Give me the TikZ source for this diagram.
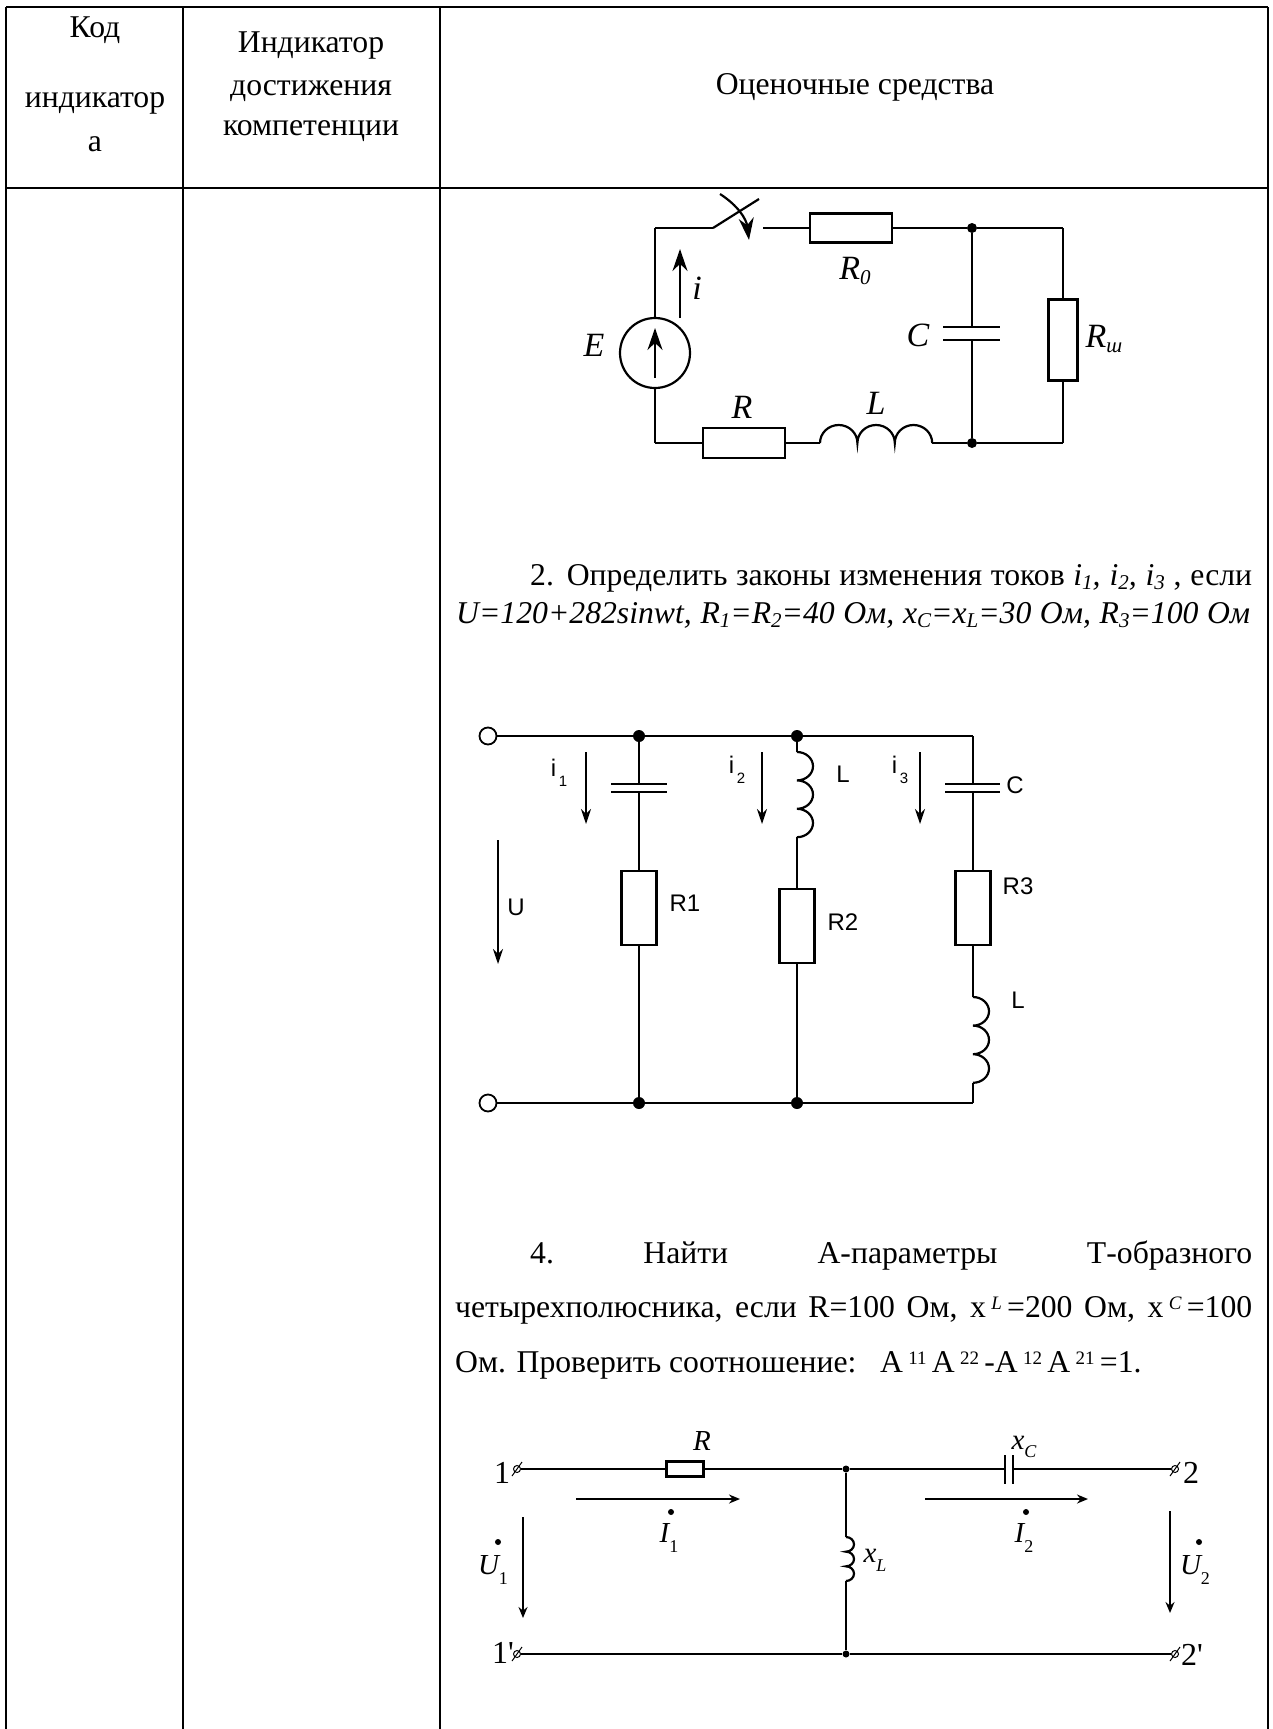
\documentclass[tikz,border=0pt]{standalone}
\usepackage{fontspec}
\setmainfont{Liberation Serif}
\setsansfont{Liberation Sans}
\newfontfamily\plainserif{Liberation Serif}
\usetikzlibrary{arrows.meta}
\tikzset{
  wire/.style={line width=2.2pt},
  res/.style={draw,line width=2.2pt,rectangle,inner sep=0pt},
  dot/.style={circle,fill=black,inner sep=0pt,minimum size=#1},
  term/.style={draw,circle,line width=1.8pt,fill=white,inner sep=0pt,minimum size=17pt},
  curbig/.style={line width=2.2pt,-{Stealth[length=22pt,width=15pt]}},
  cur/.style={line width=1.8pt,-{Stealth[length=15pt,width=10pt,inset=5pt]}},
  cursmall/.style={line width=2pt,-{Stealth[length=11pt,width=9pt]}},
  body/.style={inner sep=0pt,font=\fontsize{31.7}{36}\selectfont,anchor=base west},
  head/.style={inner sep=0pt,font=\fontsize{31.7}{36}\selectfont,anchor=base},
  lab/.style={inner sep=0pt,font=\fontsize{34}{38}\selectfont\itshape},
  sans/.style={inner sep=0pt,font=\fontsize{24}{28}\sffamily\selectfont},
  thin/.style={inner sep=0pt,font=\fontsize{29}{33}\selectfont\itshape},
  numb/.style={inner sep=0pt,font=\fontsize{32}{36}\plainserif\selectfont},
  knot/.style={draw,circle,line width=1pt,inner sep=0pt,minimum size=7pt}
}
\newcommand{\sst}[1]{\raisebox{-0.15em}{\fontsize{21}{21}\selectfont #1}}
\newcommand{\ssa}[1]{\raisebox{0.25em}{\fontsize{19}{19}\selectfont #1}}
\newcommand{\ssb}[1]{\raisebox{-0.4em}{\fontsize{15}{15}\selectfont #1}}
\newcommand{\ssc}[1]{\raisebox{-0.35em}{\fontsize{18}{18}\selectfont\upshape #1}}
\begin{document}
\begin{tikzpicture}[x=1pt,y=-1pt]
  \useasboundingbox (0,0) rectangle (1272,1729);
  % table
  \coordinate (tl) at (6,7);
  \coordinate (tr) at (1268,7);
  \coordinate (hl) at (6,188);
  \coordinate (hr) at (1268,188);
  \coordinate (bl) at (6,1729);
  \coordinate (br) at (1268,1729);
  \coordinate (c1) at (183,7);
  \coordinate (c1b) at (183,1729);
  \coordinate (c2) at (440,7);
  \coordinate (c2b) at (440,1729);
  \draw[line width=2pt] (tl) to (tr);
  \draw[line width=2pt] (hl) to (hr);
  \draw[line width=2pt] (tl) to (bl);
  \draw[line width=2pt] (tr) to (br);
  \draw[line width=2pt] (c1) to (c1b);
  \draw[line width=2pt] (c2) to (c2b);
  \node[head] (h1) at (95,37) {Код};
  \node[head] (h2) at (95,107) {индикатор};
  \node[head] (h3) at (95,151) {а};
  \node[head] (h4) at (311,52) {Индикатор};
  \node[head] (h5) at (311,95) {достижения};
  \node[head] (h6) at (311,135) {компетенции};
  \node[head] (h7) at (855,94) {Оценочные средства};
  % first circuit
  \coordinate (a1) at (655,228);
  \coordinate (a2) at (713,228);
  \coordinate (a3) at (759,199);
  \coordinate (a4) at (763,228);
  \coordinate (a5) at (1063,228);
  \coordinate (a6) at (1063,443);
  \coordinate (a7) at (655,443);
  \coordinate (a8) at (820,443);
  \coordinate (a9) at (932,443);
  \coordinate (sw1) at (720,194);
  \coordinate (sw2) at (749,240);
  \coordinate (ca) at (972,327);
  \coordinate (cb) at (972,340);
  \coordinate (cal) at (943,327);
  \coordinate (car) at (1000,327);
  \coordinate (cbl) at (943,340);
  \coordinate (cbr) at (1000,340);
  \node[draw,circle,line width=2.2pt,minimum size=70pt,inner sep=0pt] (src) at (655,353) {};
  \node[res,minimum width=82pt,minimum height=29pt] (r0) at (851,228) {};
  \node[res,minimum width=29pt,minimum height=81pt] (rsh) at (1063,340) {};
  \node[res,minimum width=82pt,minimum height=30pt] (r) at (744,443) {};
  \node[dot=10pt] (n1) at (972,228) {};
  \node[dot=10pt] (n2) at (972,443) {};
  \coordinate (s1) at (655,378);
  \coordinate (s2) at (655,328);
  \coordinate (i1) at (680,318);
  \coordinate (i2) at (680,249);
  \begin{scope}[wire]
    \draw (src.north) to (a1);
    \draw (a1) to (a2);
    \draw (a2) to (a3);
    \draw (a4) to (r0.west);
    \draw (r0.east) to (n1);
    \draw (n1) to (a5);
    \draw (a5) to (rsh.north);
    \draw (rsh.south) to (a6);
    \draw (a6) to (n2);
    \draw (n2) to (a9);
    \draw (a8) to (r.east);
    \draw (r.west) to (a7);
    \draw (a7) to (src.south);
    \draw (n1) to (ca);
    \draw (cb) to (n2);
    \draw (cal) to (car);
    \draw (cbl) to (cbr);
    \draw (a8) arc (180:0:18.7pt and 18pt) arc (180:0:18.7pt and 18pt) arc (180:0:18.7pt and 18pt);
    \draw[curbig] (s1) to (s2);
    \draw[curbig] (i1) to (i2);
    \draw[curbig] (sw1) to[bend left=25] (sw2);
  \end{scope}
  \node[lab] (le) at (594,345) {E};
  \node[lab] (li) at (697,288) {i};
  \node[lab] (lr0) at (855,271) {R\sst{0}};
  \node[lab] (lc) at (918,335) {C};
  \node[lab] (lrsh) at (1104,339) {R\sst{ш}};
  \node[lab] (lr) at (742,407) {R};
  \node[lab] (ll) at (876,403) {L};
  % task 2
  \node[body] (t1) at (530,585) {\hbox to 722pt{2. Определить законы изменения токов \textit{i\sst{1}, i\sst{2}, i\sst{3}} , если}};
  \node[body,font=\fontsize{31.7}{36}\selectfont\itshape] (t2) at (456,623) {\hbox to 794pt{U=120+282sinwt, R\sst{1}=R\sst{2}=40 Ом, x\sst{C}=x\sst{L}=30 Ом, R\sst{3}=100 Ом}};
  % second circuit
  \node[term] (p1) at (488,736) {};
  \node[term] (p2) at (488,1103) {};
  \node[dot=12pt] (j1) at (639,736) {};
  \node[dot=12pt] (j2) at (797,736) {};
  \node[dot=12pt] (j3) at (639,1103) {};
  \node[dot=12pt] (j4) at (797,1103) {};
  \coordinate (b1) at (973,736);
  \coordinate (b2) at (973,1103);
  \node[res,minimum width=35pt,minimum height=74pt] (r1) at (639,908) {};
  \node[res,minimum width=35pt,minimum height=74pt] (r2) at (797,926) {};
  \node[res,minimum width=35pt,minimum height=74pt] (r3) at (973,908) {};
  \coordinate (d1) at (639,784);
  \coordinate (d2) at (639,792);
  \coordinate (d1l) at (611,784);
  \coordinate (d1r) at (667,784);
  \coordinate (d2l) at (611,792);
  \coordinate (d2r) at (667,792);
  \coordinate (e1) at (973,784);
  \coordinate (e2) at (973,792);
  \coordinate (e1l) at (945,784);
  \coordinate (e1r) at (1000,784);
  \coordinate (e2l) at (945,792);
  \coordinate (e2r) at (1000,792);
  \coordinate (f1) at (797,752);
  \coordinate (f2) at (797,837);
  \coordinate (g1) at (973,997);
  \coordinate (g2) at (973,1083);
  \coordinate (ar1a) at (586,752);
  \coordinate (ar1b) at (586,824);
  \coordinate (ar2a) at (762,752);
  \coordinate (ar2b) at (762,824);
  \coordinate (ar3a) at (920,752);
  \coordinate (ar3b) at (920,824);
  \coordinate (ua) at (498,840);
  \coordinate (ub) at (498,964);
  \begin{scope}[wire]
    \draw (p1) to (j1);
    \draw (j1) to (j2);
    \draw (j2) to (b1);
    \draw (p2) to (j3);
    \draw (j3) to (j4);
    \draw (j4) to (b2);
    \draw (j1) to (d1);
    \draw (d2) to (r1.north);
    \draw (r1.south) to (j3);
    \draw (d1l) to (d1r);
    \draw (d2l) to (d2r);
    \draw (j2) to (f1);
    \draw (f1) arc (90:-90:16pt and 14.2pt) arc (90:-90:16pt and 14.2pt) arc (90:-90:16pt and 14.2pt);
    \draw (f2) to (r2.north);
    \draw (r2.south) to (j4);
    \draw (b1) to (e1);
    \draw (e2) to (r3.north);
    \draw (e1l) to (e1r);
    \draw (e2l) to (e2r);
    \draw (r3.south) to (g1);
    \draw (g1) arc (90:-90:16pt and 14.3pt) arc (90:-90:16pt and 14.3pt) arc (90:-90:16pt and 14.3pt);
    \draw (g2) to (b2);
    \draw[cur] (ar1a) to (ar1b);
    \draw[cur] (ar2a) to (ar2b);
    \draw[cur] (ar3a) to (ar3b);
    \draw[cur] (ua) to (ub);
  \end{scope}
  \node[sans] (li1) at (559,773) {i\ssb{\,1}};
  \node[sans] (li2) at (737,770) {i\ssb{\,2}};
  \node[sans] (li3) at (900,770) {i\ssb{\,3}};
  \node[sans] (ll1) at (843,774) {L};
  \node[sans] (lc3) at (1015,785) {C};
  \node[sans] (lr1) at (685,903) {R1};
  \node[sans] (lr2) at (843,922) {R2};
  \node[sans] (lr3) at (1018,886) {R3};
  \node[sans] (ll3) at (1018,1000) {L};
  \node[sans] (lu) at (516,907) {U};
  % task 4
  \node[body] (t3) at (530,1263) {\hbox to 722pt{4.\hfill Найти\hfill А-параметры\hfill Т-образного}};
  \node[body] (t4) at (455,1317) {\hbox to 797pt{четырехполюсника, если R=100 Ом, x\,\textit{\ssa{L}}\,=200 Ом, x\,\textit{\ssa{C}}\,=100}};
  \node[body] (t5) at (455,1372) {Ом. Проверить соотношение:\ \ \ A\,\ssa{11}\,A\,\ssa{22}\,-A\,\ssa{12}\,A\,\ssa{21}\,=1.};
  % third circuit
  \node[knot] (k1) at (517,1469) {};
  \node[knot] (k2) at (1175,1469) {};
  \node[knot] (k3) at (517,1654) {};
  \node[knot] (k4) at (1175,1654) {};
  \node[res,minimum width=37pt,minimum height=15pt] (r4) at (685,1469) {};
  \node[dot=7pt] (m1) at (846,1469) {};
  \node[dot=7pt] (m2) at (846,1654) {};
  \coordinate (q1) at (1005,1469);
  \coordinate (q2) at (1013,1469);
  \coordinate (q1a) at (1005,1455);
  \coordinate (q1b) at (1005,1484);
  \coordinate (q2a) at (1013,1455);
  \coordinate (q2b) at (1013,1484);
  \coordinate (h1a) at (846,1537);
  \coordinate (h1b) at (846,1581);
  \coordinate (w1a) at (576,1499);
  \coordinate (w1b) at (740,1499);
  \coordinate (w2a) at (925,1499);
  \coordinate (w2b) at (1088,1499);
  \coordinate (u1a) at (523,1517);
  \coordinate (u1b) at (523,1618);
  \coordinate (u2a) at (1170,1511);
  \coordinate (u2b) at (1170,1613);
  \coordinate (z1) at (512,1476);
  \coordinate (z2) at (522,1462);
  \coordinate (z3) at (1170,1476);
  \coordinate (z4) at (1180,1462);
  \coordinate (z5) at (512,1661);
  \coordinate (z6) at (522,1647);
  \coordinate (z7) at (1170,1661);
  \coordinate (z8) at (1180,1647);
  \begin{scope}[wire]
    \draw (k1) to (r4.west);
    \draw (r4.east) to (m1);
    \draw (m1) to (q1);
    \draw (q1a) to (q1b);
    \draw (q2a) to (q2b);
    \draw (q2) to (k2);
    \draw (k3) to (m2);
    \draw (m2) to (k4);
    \draw (m1) to (h1a);
    \draw (h1a) arc (90:-90:8pt and 7.33pt) arc (90:-90:8pt and 7.33pt) arc (90:-90:8pt and 7.33pt);
    \draw (h1b) to (m2);
    \draw[cursmall] (w1a) to (w1b);
    \draw[cursmall] (w2a) to (w2b);
    \draw[cursmall] (u1a) to (u1b);
    \draw[cursmall] (u2a) to (u2b);
  \end{scope}
  \draw[line width=1pt] (z1) to (z2);
  \draw[line width=1pt] (z3) to (z4);
  \draw[line width=1pt] (z5) to (z6);
  \draw[line width=1pt] (z7) to (z8);
  \node[thin] (lr4) at (702,1441) {R};
  \node[thin] (lxc) at (1024,1447) {x\raisebox{-0.3em}{\fontsize{18}{18}\selectfont C}};
  \node[thin] (lxl) at (875,1560) {x\raisebox{-0.3em}{\fontsize{18}{18}\selectfont L}};
  \node[numb] (l1) at (502,1473) {1};
  \node[numb] (l2) at (1191,1473) {2};
  \node[numb] (l3) at (503,1653) {1'};
  \node[numb] (l4) at (1192,1655) {2'};
  \node[thin] (li1c) at (669,1538) {I\ssc{1}};
  \node[dot=6pt] (di1) at (671,1512) {};
  \node[thin] (li2c) at (1024,1538) {I\ssc{2}};
  \node[dot=6pt] (di2) at (1026,1512) {};
  \node[thin] (lu1) at (493,1570) {U\ssc{1}};
  \node[dot=6pt] (du1) at (498,1542) {};
  \node[thin] (lu2) at (1195,1570) {U\ssc{2}};
  \node[dot=6pt] (du2) at (1199,1542) {};
\end{tikzpicture}
\end{document}
